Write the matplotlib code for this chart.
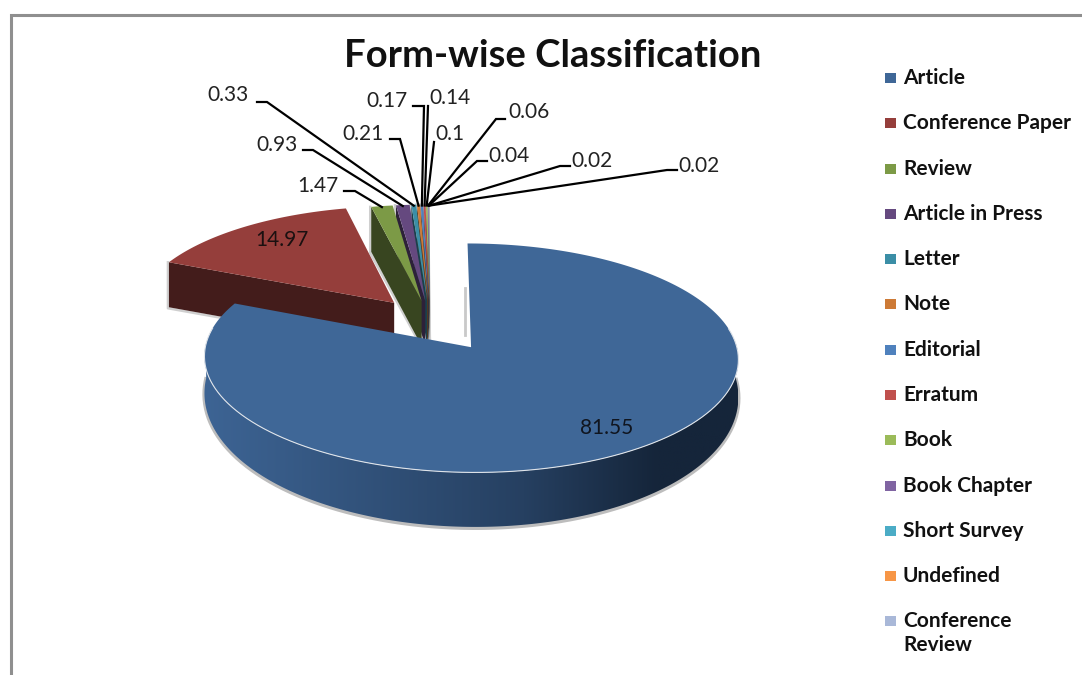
import numpy as np
import matplotlib
matplotlib.use("Agg")
import matplotlib.pyplot as plt
from matplotlib.patches import Polygon, Rectangle

categories = ["Article", "Conference Paper", "Review", "Article in Press", "Letter", "Note",
              "Editorial", "Erratum", "Book", "Book Chapter", "Short Survey", "Undefined",
              "Conference\nReview"]
values = [81.55, 14.97, 1.47, 0.93, 0.33, 0.21, 0.17, 0.14, 0.1, 0.06, 0.04, 0.02, 0.02]
value_labels = ["81.55", "14.97", "1.47", "0.93", "0.33", "0.21", "0.17", "0.14", "0.1", "0.06",
                "0.04", "0.02", "0.02"]
colors = ["#3f6797", "#953e3b", "#7c9a46", "#65497f", "#3b8ea6", "#cd7a36", "#4f81bd",
          "#c0504d", "#9bbb59", "#8064a2", "#4bacc6", "#f79646", "#a9b8d8"]

# pie geometry in pixels, k is the perspective strength
cx, cy = 430, 321
R, b, k = 260, 108.6, 0.092
explode = [0.282, 0.22, 0.19, 0.19, 0.19, 0.19, 0.19, 0.19, 0.19, 0.19, 0.19, 0.19, 0.19]

# leader lines: label centre, elbow start (next to text), elbow end
label_pos = {2: (318, 186), 3: (277, 145), 4: (228, 95), 5: (363, 134), 6: (387, 101),
             7: (450, 98), 8: (450, 134), 9: (529, 112), 10: (509, 156), 11: (592, 161),
             12: (699, 166)}
elbows = {2: [(344, 191), (355, 191)], 3: [(303, 150), (313, 150)], 4: [(257, 102), (267, 102)],
          5: [(390, 139), (400, 139)], 6: [(413, 106), (424, 106)], 7: [(428, 106)],
          8: [(434, 142)], 9: [(505, 119), (496, 119)], 10: [(487, 161), (477, 161)],
          11: [(570, 166), (560, 166)], 12: [(677, 170), (667, 170)]}

legend_y = [78, 123, 169, 214, 259, 304, 350, 395, 440, 486, 531, 576, 621]


def project(U, V):
    p = 1 / (1 - k * V)
    return cx + R * U * p, cy + b * V * p


def shade(col, f):
    return tuple(c * f for c in matplotlib.colors.to_rgb(col))


def drop(V, i):
    if i == 0:
        return 31 + 19 * V
    return 45 + 0 * V


def wall_gradient():
    left = np.array(matplotlib.colors.to_rgb("#3d6494"))
    midc = np.array(matplotlib.colors.to_rgb("#264061"))
    right = np.array(matplotlib.colors.to_rgb("#15253a"))
    f = np.linspace(0, 1, 256)[:, None]
    grad = np.where(f < 0.6, left + (midc - left) * f / 0.6,
                    midc + (right - midc) * np.minimum((f - 0.6) / 0.25, 1))
    return grad[None, :, :]


fig = plt.figure(figsize=(10.82, 6.75), dpi=100)
ax = fig.add_axes([0, 0, 1, 1])

ends = np.cumsum(values) / np.sum(values) * 360
starts = np.r_[0, ends[:-1]]

outer_mid = {}
for i in reversed(range(len(values))):
    z = 2 + (12 - i) * 3
    t0, t1 = np.radians(starts[i]), np.radians(ends[i])
    mid = (t0 + t1) / 2
    ox = explode[i] * np.sin(mid)
    oy = -explode[i] * np.cos(mid)
    th = np.linspace(t0, t1, 300)
    U = ox + np.sin(th)
    V = oy - np.cos(th)
    arc_x, arc_y = project(U, V)
    vx, vy = project(ox, oy)
    outer_mid[i] = project(ox + np.sin(mid), oy - np.cos(mid))

    # side wall along the first straight edge
    if i > 0:
        d0, d1 = drop(oy, i), drop(V[0], i)
        wall = [(vx, vy), (arc_x[0], arc_y[0]), (arc_x[0], arc_y[0] + d1), (vx, vy + d0)]
        ax.plot([arc_x[0] - 1, arc_x[0] - 1, vx], [arc_y[0], arc_y[0] + d1 + 1, vy + d0 + 1],
                color="#cfcfcf", lw=1.8, zorder=z)
        ax.add_patch(Polygon(wall, closed=True, fc=shade(colors[i], 0.45), ec="none", zorder=z + 0.5))

    # outer wall, front part only
    if i == 0:
        mask = (th > np.radians(88)) & (th < np.radians(272))
        bx, by = arc_x[mask], arc_y[mask] + drop(V[mask], i)
        pts = np.r_[np.c_[arc_x[mask], arc_y[mask]], np.c_[bx, by][::-1]]
        ax.plot(bx, by + 1, color="#bdbdbd", lw=3, zorder=z)
        wall_patch = Polygon(pts, closed=True, fc="none", ec="none", zorder=z)
        ax.add_patch(wall_patch)
        im = ax.imshow(wall_gradient(),
                       extent=(pts[:, 0].min(), pts[:, 0].max(), pts[:, 1].max(), pts[:, 1].min()),
                       aspect="auto", zorder=z + 0.5)
        im.set_clip_path(wall_patch)

    # top face
    top = np.r_[[[vx, vy]], np.c_[arc_x, arc_y]]
    ax.add_patch(Polygon(top, closed=True, fc=colors[i], ec="none", zorder=z + 1))
    rim = np.abs(th - np.pi) < np.radians(100)
    if rim.any():
        ax.plot(arc_x[rim], arc_y[rim], color="#dfe4ea", lw=0.8, zorder=z + 1.2)

# faint ghost edge beside the big slice
ax.plot([465, 465], [288, 335], color="#c9c9c9", lw=2, zorder=1.5)

# value labels
ax.text(282, 240, value_labels[1], ha="center", va="center", fontsize=15, family="Lato", color="#1a1010", zorder=60)
ax.text(607, 428, value_labels[0], ha="center", va="center", fontsize=15, family="Lato", color="#10151f", zorder=60)
for i, (tx, ty) in label_pos.items():
    ax.text(tx, ty, value_labels[i], ha="center", va="center", fontsize=15, family="Lato", color="#222222", zorder=60)
    pts = elbows[i] + [(outer_mid[i][0], outer_mid[i][1] + 1)]
    ax.plot([q[0] for q in pts], [q[1] for q in pts], color="black", lw=1.6, zorder=59, solid_joinstyle="miter")

# legend
for name, col, y in zip(categories, colors, legend_y):
    ax.add_patch(Rectangle((885, y - 5), 11, 10, fc=col, ec="none", zorder=60))
    ax.text(903, y - 10, name, ha="left", va="top", fontsize=15, family="Lato", fontweight="bold",
            color="#111111", linespacing=1.27, zorder=60)

ax.text(553, 56, "Form-wise Classification", ha="center", va="center", fontsize=27.5, family="Lato",
        fontweight="bold", color="#111111", zorder=60)

# chart frame
ax.plot([11, 11, 1082], [675, 15, 15], color="#8f8f8f", lw=2.2, zorder=1, solid_joinstyle="miter")

ax.set_xlim(0, 1082)
ax.set_ylim(675, 0)
ax.axis("off")
fig.savefig("out.png", dpi=100, facecolor="white")
